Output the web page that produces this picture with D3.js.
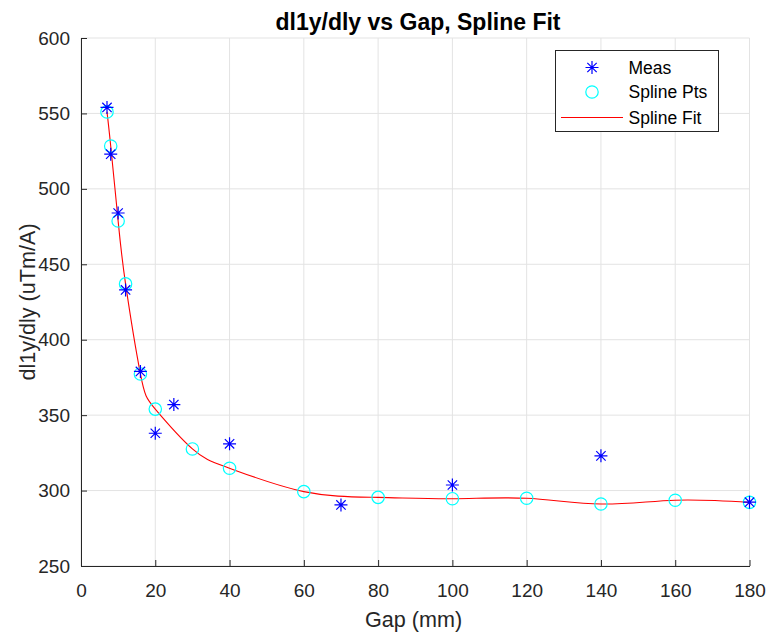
<!DOCTYPE html>
<html>
<head>
<meta charset="utf-8">
<script src="https://cdn.jsdelivr.net/npm/d3@7"></script>
<style>
  html, body { margin: 0; padding: 0; background: #fff; }
  svg { display: block; font-family: "Liberation Sans", Arial, Helvetica, sans-serif; }
</style>
</head>
<body>
<svg id="chart" width="768" height="637"></svg>
<script>
// Measured gap (mm) and dI1y/dIy values
const measGap = [7, 8, 10, 12, 16, 20, 25, 40, 70, 100, 140, 180];
const measVal = [554, 523, 484, 433, 379, 338, 357, 331, 290.5, 303.7, 323, 292.3];

// Spline knot points
const splineGap = [7, 8, 10, 12, 16, 20, 30, 40, 60, 80, 100, 120, 140, 160, 180];
const splineVal = [551, 528.4, 478.7, 437, 377.3, 354, 327.6, 314.8, 299.3, 295.5, 294.6, 294.9, 291.1, 293.6, 292.2];

const xTicks = [0, 20, 40, 60, 80, 100, 120, 140, 160, 180];
const yTicks = [250, 300, 350, 400, 450, 500, 550, 600];

const legendItems = ["Meas", "Spline Pts", "Spline Fit"];

const svg = d3.select("#chart");
const plotL = 81, plotR = 749.5, plotT = 38, plotB = 566;
const axisColor = "#262626";
const gridColor = "#e3e3e3";

const x = d3.scaleLinear().domain([0, 180]).range([plotL, plotR]);
const y = d3.scaleLinear().domain([250, 600]).range([plotB, plotT]);

// grid
const grid = svg.append("g");
grid.selectAll("line.gx").data(xTicks).enter().append("line")
  .attr("x1", d => x(d)).attr("x2", d => x(d))
  .attr("y1", plotT).attr("y2", plotB)
  .attr("stroke", gridColor).attr("stroke-width", 1);
grid.selectAll("line.gy").data(yTicks).enter().append("line")
  .attr("x1", plotL).attr("x2", plotR)
  .attr("y1", d => y(d)).attr("y2", d => y(d))
  .attr("stroke", gridColor).attr("stroke-width", 1);

// axes with inward ticks
const xAxis = d3.axisBottom(x).tickValues(xTicks).tickSizeInner(-6).tickSizeOuter(0).tickPadding(17.5);
const yAxis = d3.axisLeft(y).tickValues(yTicks).tickSizeInner(-6).tickSizeOuter(0).tickPadding(11);

const gx = svg.append("g").attr("transform", `translate(0,${plotB})`).call(xAxis);
const gy = svg.append("g").attr("transform", `translate(${plotL},0)`).call(yAxis);
[gx, gy].forEach(g => {
  g.select(".domain").attr("stroke", axisColor).attr("stroke-width", 1);
  g.selectAll(".tick line").attr("stroke", axisColor);
  g.selectAll(".tick text").attr("fill", axisColor)
    .style("font-size", "19px").style("font-family", "Liberation Sans, Arial, sans-serif");
});

// spline fit line
const line = d3.line()
  .x((d, i) => x(splineGap[i]))
  .y(d => y(d))
  .curve(d3.curveNatural);
svg.append("path")
  .datum(splineVal)
  .attr("d", line)
  .attr("fill", "none")
  .attr("stroke", "#ff0000")
  .attr("stroke-width", 1.1);

// spline points (open circles)
svg.append("g").selectAll("circle").data(splineVal).enter().append("circle")
  .attr("cx", (d, i) => x(splineGap[i]))
  .attr("cy", d => y(d))
  .attr("r", 6.2)
  .attr("fill", "none")
  .attr("stroke", "#00ffff")
  .attr("stroke-width", 1.2);

// asterisk marker path
function asterisk(r) {
  const a = r * 0.72;
  return `M${-r},0L${r},0M0,${-r}L0,${r}M${-a},${-a}L${a},${a}M${-a},${a}L${a},${-a}`;
}

svg.append("g").selectAll("path").data(measVal).enter().append("path")
  .attr("transform", (d, i) => `translate(${x(measGap[i])},${y(d)})`)
  .attr("d", asterisk(6.5))
  .attr("stroke", "#0000ff")
  .attr("stroke-width", 1.2)
  .attr("fill", "none");

// title and labels
svg.append("text")
  .attr("x", 418).attr("y", 30)
  .attr("text-anchor", "middle")
  .attr("fill", "#000")
  .style("font-weight", "bold").style("font-size", "23px")
  .text("dl1y/dly vs Gap, Spline Fit");

svg.append("text")
  .attr("x", 413.5).attr("y", 626.5)
  .attr("text-anchor", "middle")
  .attr("fill", axisColor)
  .style("font-size", "21.6px")
  .text("Gap (mm)");

svg.append("text")
  .attr("transform", `translate(34.5,${(plotT + plotB) / 2}) rotate(-90)`)
  .attr("text-anchor", "middle")
  .attr("fill", axisColor)
  .style("font-size", "21.6px")
  .text("dl1y/dly (uTm/A)");

// legend
const lg = svg.append("g");
lg.append("rect")
  .attr("x", 555.5).attr("y", 50.5).attr("width", 163).attr("height", 81)
  .attr("fill", "#fff").attr("stroke", axisColor).attr("stroke-width", 1);
const rowY = [67.5, 92, 117.5];
lg.append("path")
  .attr("transform", `translate(592,${rowY[0]})`)
  .attr("d", asterisk(6.5))
  .attr("stroke", "#0000ff").attr("stroke-width", 1.2).attr("fill", "none");
lg.append("circle")
  .attr("cx", 592).attr("cy", rowY[1]).attr("r", 6.2)
  .attr("fill", "none").attr("stroke", "#00ffff").attr("stroke-width", 1.2);
lg.append("line")
  .attr("x1", 561).attr("x2", 623).attr("y1", rowY[2]).attr("y2", rowY[2])
  .attr("stroke", "#ff0000").attr("stroke-width", 1.1);
lg.selectAll("text").data(legendItems).enter().append("text")
  .attr("x", 628.5).attr("y", (d, i) => rowY[i])
  .attr("dy", "0.35em")
  .attr("fill", "#000")
  .style("font-size", "17.5px")
  .text(d => d);
</script>
</body>
</html>
